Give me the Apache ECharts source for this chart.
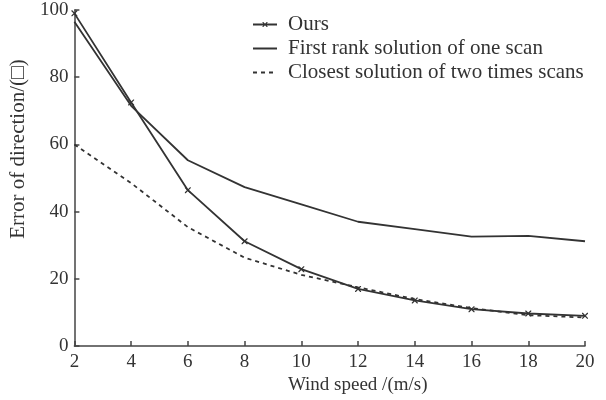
<!DOCTYPE html>
<html>
<head>
<meta charset="utf-8">
<script src="https://cdn.jsdelivr.net/npm/echarts@6/dist/echarts.min.js"></script>
<style>html,body{margin:0;padding:0;background:#fff;}#c{width:606px;height:400px;}</style>
</head>
<body>
<div id="c"></div>
<script>
var windSpeed = [2, 4, 6, 8, 10, 12, 14, 16, 18, 20];
var ours = [99, 72.5, 46.4, 31.2, 22.9, 17.0, 13.6, 11.0, 9.7, 9.0];
var firstRank = [96.5, 71.5, 55.3, 47.3, 42.2, 37.0, 34.8, 32.6, 32.8, 31.2];
var closest = [60, 48.5, 35.4, 26.3, 21.2, 17.5, 14.0, 11.3, 9.2, 8.5];
var seriesNames = ['Ours', 'First rank solution of one scan', 'Closest solution of two times scans'];

function pairs(vals) { return windSpeed.map(function (x, i) { return [x, vals[i]]; }); }

var FONT = '"Liberation Serif", "DejaVu Serif", serif';
var INK = '#333';
var crossPath = 'path://M0,0L1.5,0L10,8.5L10,10L8.5,10L0,1.5Z M8.5,0L10,0L10,1.5L1.5,10L0,10L0,8.5Z';
// legend icon for "Ours": a line with a small cross in the middle (24 x 14 box)
var oursLegendIcon = 'path://M0,0L0,0L0,0Z M24,14L24,14L24,14Z ' +
  'M0,6.1L24,6.1L24,7.9L0,7.9Z ' +
  'M9.5,4.5L10.3,4.5L14.5,8.7L14.5,9.5L13.7,9.5L9.5,5.3Z ' +
  'M13.7,4.5L14.5,4.5L14.5,5.3L10.3,9.5L9.5,9.5L9.5,8.7Z';

var chart = echarts.init(document.getElementById('c'), null, {renderer: 'canvas'});
chart.setOption({
  animation: false,
  backgroundColor: '#fff',
  grid: {left: 73, right: 21, top: 10, bottom: 49, containLabel: false},
  legend: {
    orient: 'vertical', left: 252, top: 14, padding: 0,
    itemWidth: 24, itemHeight: 14, itemGap: 3,
    textStyle: {fontFamily: FONT, fontSize: 21, color: INK, padding: [0, 0, 0, 6]},
    data: [
      {name: seriesNames[0], icon: oursLegendIcon},
      {name: seriesNames[1], itemStyle: {opacity: 0}},
      {name: seriesNames[2], itemStyle: {opacity: 0}}
    ]
  },
  xAxis: {
    type: 'value', min: 2, max: 20, interval: 2,
    name: 'Wind speed /(m/s)', nameLocation: 'middle', nameGap: 28,
    nameTextStyle: {fontFamily: FONT, fontSize: 19, color: INK, padding: [0, 0, 0, 56]},
    axisLine: {lineStyle: {color: '#444', width: 1.5}},
    axisTick: {inside: true, length: 5, lineStyle: {color: '#444', width: 1.5}},
    axisLabel: {fontFamily: FONT, fontSize: 19, color: INK, margin: 6},
    splitLine: {show: false}
  },
  yAxis: {
    type: 'value', min: 0, max: 100, interval: 20,
    name: 'Error of direction/(\u25A1)', nameLocation: 'middle', nameGap: 44,
    nameTextStyle: {fontFamily: FONT, fontSize: 21, color: INK, padding: [0, 0, 0, 58]},
    axisLine: {show: true, lineStyle: {color: '#444', width: 1.5}},
    axisTick: {show: true, inside: true, length: 5, lineStyle: {color: '#444', width: 1.5}},
    axisLabel: {fontFamily: FONT, fontSize: 19, color: INK, margin: 6},
    splitLine: {show: false}
  },
  series: [
    {
      name: seriesNames[0], type: 'line', data: pairs(ours),
      symbol: crossPath, symbolSize: 6, showSymbol: true,
      lineStyle: {color: INK, width: 1.8},
      itemStyle: {color: INK}
    },
    {
      name: seriesNames[1], type: 'line', data: pairs(firstRank),
      symbol: 'none',
      lineStyle: {color: INK, width: 1.8},
      itemStyle: {color: INK}
    },
    {
      name: seriesNames[2], type: 'line', data: pairs(closest),
      symbol: 'none',
      lineStyle: {color: INK, width: 1.8, type: [4, 4]},
      itemStyle: {color: INK}
    }
  ]
});
</script>
</body>
</html>
